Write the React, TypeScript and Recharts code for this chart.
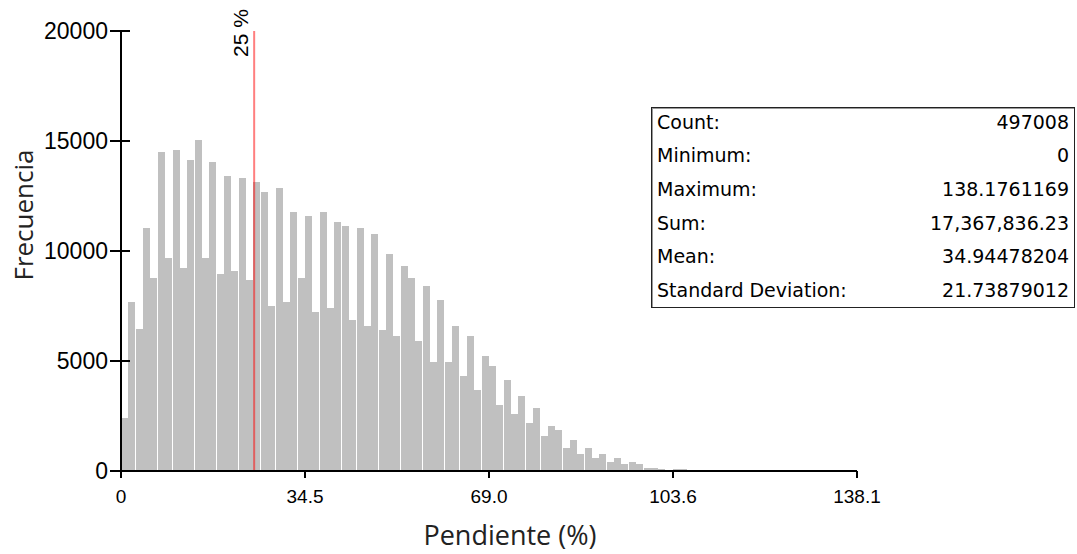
import React from 'react';
import { BarChart, Bar, XAxis, YAxis, ReferenceLine, Label } from 'recharts';

// histogram of slope (%), 100 equal bins between min 0 and max 138.1761169
const binCounts = [
  2400, 7680, 6440, 11030, 8760, 14480, 9690, 14580, 9230, 14140,
  15040, 9690, 14040, 8960, 13390, 9070, 13310, 8690, 13130, 12660,
  7510, 12860, 7690, 11770, 8780, 11590, 7240, 11770, 7430, 11320,
  11140, 6880, 11050, 6600, 10780, 6420, 9850, 6150, 9320, 8760,
  5890, 8420, 4970, 7780, 4970, 6590, 4320, 6140, 3700, 5230,
  4770, 2980, 4140, 2610, 3430, 2160, 2870, 1600, 2050, 1860,
  1060, 1420, 770, 1060, 590, 790, 420, 600, 320, 420,
  320, 150, 150, 80, 45, 75, 70, 65, 60, 18,
  12, 8, 6, 5, 4, 3, 3, 2, 2, 1,
  1, 1, 1, 0, 0, 0, 1, 0, 0, 1,
];

const maxValue = 138.1761169;
const binWidth = maxValue / binCounts.length;

const xTicks = [0, 34.544, 69.088, 103.632, 138.1761169];
const xTickLabels = ['0', '34.5', '69.0', '103.6', '138.1'];
const yTicks = [0, 5000, 10000, 15000, 20000];

const threshold = 25;

const statLabels = ['Count:', 'Minimum:', 'Maximum:', 'Sum:', 'Mean:', 'Standard Deviation:'];
const statValues = ['497008', '0', '138.1761169', '17,367,836.23', '34.94478204', '21.73879012'];

const data = binCounts.map((count, i) => ({ x: (i + 0.5) * binWidth, count }));

const FONT = '"Liberation Sans", Arial, sans-serif';
const TITLE_FONT = '"Open Sans", sans-serif';
const Y_TICK_SIZE = 11;
const Y_TICK_MARGIN = 2;
const Y_TICK_INNER = 9;

// y tick: label plus the part of the tick mark that crosses into the plot
function YTick(props: any) {
  const { x, y, payload } = props;
  const axisX = x + Y_TICK_SIZE + Y_TICK_MARGIN;
  return (
    <g>
      <line x1={axisX} x2={axisX + Y_TICK_INNER} y1={y} y2={y} stroke="#000" strokeWidth={2} />
      <text
        x={x}
        y={y}
        dy="0.36em"
        textAnchor="end"
        fontSize={23}
        fontFamily={FONT}
        fill="#000"
      >
        {payload.value}
      </text>
    </g>
  );
}

function ThresholdLabel(props: any) {
  const { viewBox } = props;
  const x = viewBox.x - 6;
  const y = viewBox.y + 26;
  return (
    <text
      x={x}
      y={y}
      transform={`rotate(-90 ${x} ${y})`}
      fontSize={21}
      fontFamily={FONT}
      fill="#000"
    >
      {`${threshold} %`}
    </text>
  );
}

function StatsTable() {
  return (
    <div
      style={{
        position: 'absolute',
        left: 651,
        top: 107,
        width: 424,
        height: 201,
        boxSizing: 'border-box',
        border: '1px solid #222',
        boxShadow: 'inset 1px 1px 0 #999',
        background: '#fff',
        fontFamily: '"DejaVu Sans", Verdana, sans-serif',
        fontSize: 19,
        color: '#000',
        overflow: 'hidden',
      }}
    >
      <div style={{ position: 'relative', top: -3 }}>
        {statLabels.map((label, i) => (
          <div
            key={label}
            style={{
              height: 33.6,
              display: 'flex',
              alignItems: 'center',
              justifyContent: 'space-between',
              padding: '0 5px 0 5px',
            }}
          >
            <span>{label}</span>
            <span>{statValues[i]}</span>
          </div>
        ))}
      </div>
    </div>
  );
}

export default function App() {
  return (
    <div style={{ position: 'relative', width: 1077, height: 554, background: '#fff' }}>
      <style>{'body{margin:0} .recharts-bar-rectangle path{shape-rendering:crispEdges}'}</style>
      <BarChart
        width={1077}
        height={554}
        data={data}
        margin={{ top: 31, right: 220, bottom: 0, left: 0 }}
        barCategoryGap={0}
      >
        <XAxis
          type="number"
          dataKey="x"
          domain={[0, maxValue]}
          ticks={xTicks}
          interval={0}
          allowDataOverflow
          tickFormatter={(v: number, i: number) => xTickLabels[i]}
          height={83}
          tickSize={7}
          tickMargin={12}
          axisLine={{ stroke: '#000', strokeWidth: 2 }}
          tickLine={{ stroke: '#000', strokeWidth: 2 }}
          tick={{ fill: '#000', fontSize: 19, fontFamily: FONT }}
        >
          <Label
            value="Pendiente (%)"
            position="insideBottom"
            offset={9}
            dx={21}
            fill="#222"
            fontSize={27}
            fontFamily={TITLE_FONT}
          />
        </XAxis>
        <YAxis
          domain={[0, 20000]}
          ticks={yTicks}
          interval={0}
          width={121}
          tickSize={Y_TICK_SIZE}
          tickMargin={Y_TICK_MARGIN}
          axisLine={{ stroke: '#000', strokeWidth: 2 }}
          tickLine={{ stroke: '#000', strokeWidth: 2 }}
          tick={<YTick />}
        >
          <Label
            value="Frecuencia"
            position="center"
            angle={-90}
            dx={-37}
            dy={-36}
            fill="#222"
            fontSize={26}
            fontFamily={TITLE_FONT}
          />
        </YAxis>
        <Bar dataKey="count" fill="#c0c0c0" barSize={7} isAnimationActive={false} />
        <ReferenceLine
          x={threshold}
          stroke="#ff0000"
          strokeOpacity={0.5}
          strokeWidth={2}
          label={<ThresholdLabel />}
        />
      </BarChart>
      <StatsTable />
    </div>
  );
}
